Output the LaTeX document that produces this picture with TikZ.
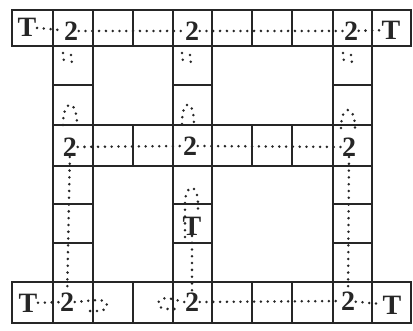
\documentclass[tikz,border=0pt]{standalone}
\usepackage{fontspec}
\setmainfont{Liberation Serif}
\definecolor{ink}{HTML}{262626}
\begin{document}
\begin{tikzpicture}[x=1pt,y=-1pt,
  grid/.style={draw=ink, line width=1.9pt},
  frame/.style={draw=ink, line width=2.5pt},
  trail/.style={draw=ink, line width=2.8pt, line cap=round, dash pattern=on 0pt off 6.8pt},
  glyph/.style={font=\fontsize{28}{28}\selectfont\bfseries, text=ink, inner sep=0.5pt}]
\useasboundingbox[fill=white] (0,0) rectangle (413,331);
% top row
\draw[frame] (12,10) rectangle (411,46);
\foreach \x in {53,93,133,173,212,252,292,333,372} \draw[grid] (\x,10) -- (\x,46);
% middle row
\draw[grid] (53,125) rectangle (372,166);
\foreach \x in {93,133,173,212,252,292,333} \draw[grid] (\x,125) -- (\x,166);
% bottom row
\draw[frame] (12,282) rectangle (411,323);
\foreach \x in {53,93,133,173,212,252,292,333,372} \draw[grid] (\x,282) -- (\x,323);
% vertical columns
\foreach \x in {53,93,173,212,333,372} {
  \draw[grid] (\x,46) -- (\x,125);
  \draw[grid] (\x,166) -- (\x,282);
}
\foreach \a/\b in {53/93,173/212,333/372} {
  \draw[grid] (\a,85) -- (\b,85);
  \draw[grid] (\a,204) -- (\b,204);
  \draw[grid] (\a,243) -- (\b,243);
}
% glyphs
\node[glyph] (tT1) at (27,27) {T};
\node[glyph] (t2a) at (71,31) {2};
\node[glyph] (t2b) at (192,31) {2};
\node[glyph] (t2c) at (351,31) {2};
\node[glyph] (tT2) at (391,30) {T};
\node[glyph] (m2a) at (70,147) {2};
\node[glyph] (m2b) at (190,146) {2};
\node[glyph] (m2c) at (349,147) {2};
\node[glyph] (cT) at (192,226) {T};
\node[glyph] (bT1) at (28,303) {T};
\node[glyph] (b2a) at (67,302) {2};
\node[glyph] (b2b) at (192,302) {2};
\node[glyph] (b2c) at (348,301) {2};
\node[glyph] (bT2) at (392,305) {T};
% dotted trails
\draw[trail] (tT1) -- (t2a);
\draw[trail] (t2a) -- (t2b);
\draw[trail] (t2b) -- (t2c);
\draw[trail] (t2c) -- (tT2);
\draw[trail] (m2a) -- (m2b);
\draw[trail] (m2b) -- (m2c);
\draw[trail] (m2a) -- (b2a);
\draw[trail] (m2c) -- (b2c);
\draw[trail] (cT) -- (b2b);
\draw[trail] (bT1) -- (b2a);
\draw[trail] (b2b) -- (b2c);
\draw[trail] (b2c) -- (bT2);
% small fragments below top 2s
\foreach \x in {63,182,343} {
  \draw[trail] (\x,53) -- (\x+1,63);
  \draw[trail] (\x+8,55) -- (\x+9,63);
}
% arches above middle 2s
\draw[trail] (63,125) .. controls (63,98) and (77,98) .. (77,125);
\draw[trail] (182,124) .. controls (182,98) and (194,98) .. (194,124);
\draw[trail] (341,128) .. controls (341,104) and (355,104) .. (355,128);
% loop around column T
\draw[trail] (185,237) -- (185,205) .. controls (185,182) and (198,182) .. (198,205) -- (198,214);
% bottom loops
\draw[trail] (b2a.east) -- (98,300) .. controls (110,300) and (110,311) .. (98,311) -- (84,311);
\draw[trail] (b2b.west) -- (168,298) .. controls (155,298) and (155,309) .. (168,309) -- (178,309);
\end{tikzpicture}
\end{document}
